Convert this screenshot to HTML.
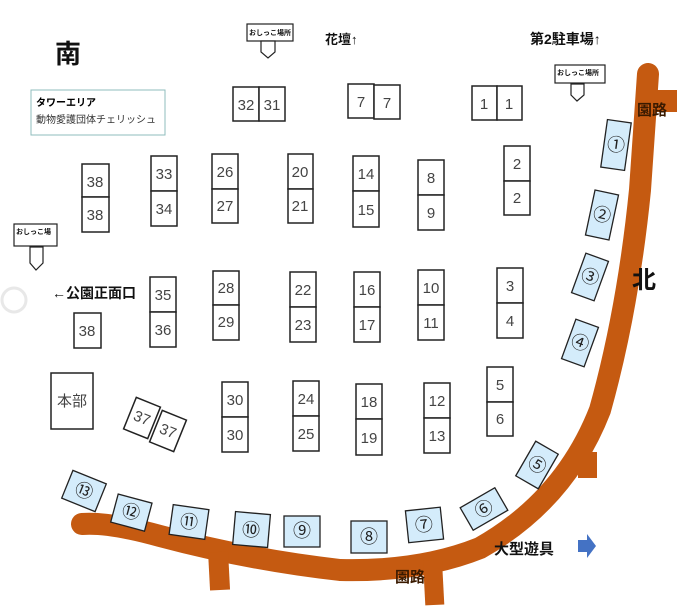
<!DOCTYPE html>
<html><head><meta charset="utf-8"><style>
body{margin:0;background:#fff}
svg{display:block;font-family:"Liberation Sans","Noto Sans CJK JP",sans-serif}
.b rect{fill:#fff;stroke:#222;stroke-width:1.5}
.b text{font-size:15px;fill:#444;text-anchor:middle}
.c rect{fill:#d4ecfb;stroke:#222;stroke-width:1.3}
.c text{font-size:18px;fill:#222;text-anchor:middle}
</style></head><body>
<svg width="677" height="608" viewBox="0 0 677 608">
<g fill="none" stroke="#c55a11" stroke-width="22" stroke-linecap="round">
<path d="M648 74 L640 190 Q628 310 600 410 Q565 500 480 548 Q420 572 340 570 Q250 560 160 536 Q110 522 82 524"/>
</g>
<g fill="#c55a11">
<rect x="646" y="90" width="31" height="22"/>
<rect x="578" y="452" width="19" height="26"/>
<rect x="209" y="552" width="20" height="38" transform="rotate(-3 219 570)"/>
<rect x="424" y="560" width="19" height="45" transform="rotate(-3 433 580)"/>
</g>
<g font-weight="bold" fill="#111">
<text x="55" y="63" font-size="26">南</text>
<text x="325" y="44" font-size="13">花壇↑</text>
<text x="530" y="44" font-size="14">第2駐車場↑</text>
<text x="632" y="288" font-size="24">北</text>
<text x="637" y="115" font-size="15" fill="#3a1a00">園路</text>
<text x="395" y="582" font-size="15" fill="#3a1a00">園路</text>
<text x="494" y="554" font-size="15">大型遊具</text>
<text x="52" y="298" font-size="14">←公園正面口</text>
</g>
<polygon points="578,540 587,540 587,534 596,546 587,558 587,552 578,552" fill="#4472c4"/>
<circle cx="14" cy="300" r="12" fill="none" stroke="#e8e8e8" stroke-width="3"/>
<rect x="31" y="90" width="134" height="45" fill="#fff" stroke="#8fbcbc" stroke-width="1"/>
<text x="36" y="106" font-size="10" font-weight="bold">タワーエリア</text>
<text x="36" y="123" font-size="10" fill="#333">動物愛護団体チェリッシュ</text>
<g fill="#fff" stroke="#222" stroke-width="1.2">
<rect x="247" y="24" width="46" height="17"/><polygon points="261,41 275,41 275,52 268,58 261,52"/>
<rect x="14" y="224" width="43" height="22"/><polygon points="30,247 43,247 43,263 36,270 30,263"/>
<rect x="555" y="65" width="50" height="18"/><polygon points="571,84 584,84 584,95 577,101 571,95"/>
</g>
<g font-size="7" fill="#111" font-weight="bold">
<text x="249" y="35">おしっこ場所</text>
<text x="16" y="234">おしっこ場</text>
<text x="557" y="75">おしっこ場所</text>
</g>
<g class="b">
<rect x="233" y="87" width="26" height="34"/><rect x="259" y="87" width="26" height="34"/>
<text x="246" y="110">32</text><text x="272" y="110">31</text>
<rect x="348" y="84" width="26" height="34"/><rect x="374" y="85" width="26" height="34"/>
<text x="361" y="107">7</text><text x="387" y="108">7</text>
<rect x="472" y="86" width="25" height="34"/><rect x="497" y="86" width="25" height="34"/>
<text x="484" y="109">1</text><text x="509" y="109">1</text>
<rect x="82" y="164" width="27" height="33"/><rect x="82" y="197" width="27" height="35"/>
<text x="95" y="187">38</text><text x="95" y="220">38</text>
<rect x="151" y="156" width="26" height="35"/><rect x="151" y="191" width="26" height="35"/>
<text x="164" y="179">33</text><text x="164" y="214">34</text>
<rect x="212" y="154" width="26" height="35"/><rect x="212" y="189" width="26" height="34"/>
<text x="225" y="177">26</text><text x="225" y="211">27</text>
<rect x="288" y="154" width="25" height="35"/><rect x="288" y="189" width="25" height="34"/>
<text x="300" y="177">20</text><text x="300" y="211">21</text>
<rect x="353" y="156" width="26" height="35"/><rect x="353" y="191" width="26" height="36"/>
<text x="366" y="179">14</text><text x="366" y="215">15</text>
<rect x="418" y="160" width="26" height="35"/><rect x="418" y="195" width="26" height="35"/>
<text x="431" y="183">8</text><text x="431" y="218">9</text>
<rect x="504" y="146" width="26" height="35"/><rect x="504" y="181" width="26" height="34"/>
<text x="517" y="169">2</text><text x="517" y="203">2</text>
<rect x="150" y="277" width="26" height="35"/><rect x="150" y="312" width="26" height="35"/>
<text x="163" y="300">35</text><text x="163" y="335">36</text>
<rect x="213" y="271" width="26" height="34"/><rect x="213" y="305" width="26" height="35"/>
<text x="226" y="293">28</text><text x="226" y="327">29</text>
<rect x="290" y="272" width="26" height="35"/><rect x="290" y="307" width="26" height="35"/>
<text x="303" y="295">22</text><text x="303" y="330">23</text>
<rect x="354" y="272" width="26" height="35"/><rect x="354" y="307" width="26" height="35"/>
<text x="367" y="295">16</text><text x="367" y="330">17</text>
<rect x="418" y="270" width="26" height="35"/><rect x="418" y="305" width="26" height="35"/>
<text x="431" y="293">10</text><text x="431" y="328">11</text>
<rect x="497" y="268" width="26" height="35"/><rect x="497" y="303" width="26" height="35"/>
<text x="510" y="291">3</text><text x="510" y="326">4</text>
<rect x="74" y="313" width="27" height="35"/><text x="87" y="336">38</text>
<rect x="51" y="373" width="42" height="56"/><text x="72" y="406" fill="#222">本部</text>
<rect x="222" y="382" width="26" height="35"/><rect x="222" y="417" width="26" height="35"/>
<text x="235" y="405">30</text><text x="235" y="440">30</text>
<rect x="293" y="381" width="26" height="35"/><rect x="293" y="416" width="26" height="35"/>
<text x="306" y="404">24</text><text x="306" y="439">25</text>
<rect x="356" y="384" width="26" height="35"/><rect x="356" y="419" width="26" height="36"/>
<text x="369" y="407">18</text><text x="369" y="443">19</text>
<rect x="424" y="383" width="26" height="35"/><rect x="424" y="418" width="26" height="35"/>
<text x="437" y="406">12</text><text x="437" y="441">13</text>
<rect x="487" y="367" width="26" height="35"/><rect x="487" y="402" width="26" height="34"/>
<text x="500" y="390">5</text><text x="500" y="424">6</text>
<g transform="rotate(22 142 418)"><rect x="129" y="401" width="26" height="34"/><text x="142" y="423">37</text></g>
<g transform="rotate(22 168 431)"><rect x="155" y="414" width="26" height="34"/><text x="168" y="436">37</text></g>
</g>
<g class="c">
<g transform="rotate(8 616 145)"><rect x="604" y="121" width="24" height="48"/><text x="616" y="151">①</text></g>
<g transform="rotate(12 602 215)"><rect x="590" y="192" width="24" height="46"/><text x="602" y="221">②</text></g>
<g transform="rotate(20 590 277)"><rect x="578" y="256" width="24" height="42"/><text x="590" y="283">③</text></g>
<g transform="rotate(20 580 343)"><rect x="568" y="322" width="24" height="42"/><text x="580" y="349">④</text></g>
<g transform="rotate(30 537 465)"><rect x="524" y="445" width="26" height="40"/><text x="537" y="471">⑤</text></g>
<g transform="rotate(-30 484 509)"><rect x="464" y="496" width="40" height="26"/><text x="484" y="515">⑥</text></g>
<g transform="rotate(-6 424 525)"><rect x="407" y="509" width="35" height="32"/><text x="424" y="531">⑦</text></g>
<rect x="351" y="521" width="36" height="32"/><text x="369" y="543">⑧</text>
<rect x="284" y="516" width="36" height="31"/><text x="302" y="537">⑨</text>
<g transform="rotate(5 251 530)"><rect x="234" y="513" width="35" height="33"/><text x="251" y="536">⑩</text></g>
<g transform="rotate(8 189 522)"><rect x="171" y="507" width="36" height="30"/><text x="189" y="528">⑪</text></g>
<g transform="rotate(15 131 512)"><rect x="114" y="498" width="35" height="29"/><text x="131" y="518">⑫</text></g>
<g transform="rotate(22 84 491)"><rect x="66" y="476" width="36" height="30"/><text x="84" y="497">⑬</text></g>
</g>
</svg>
</body></html>
